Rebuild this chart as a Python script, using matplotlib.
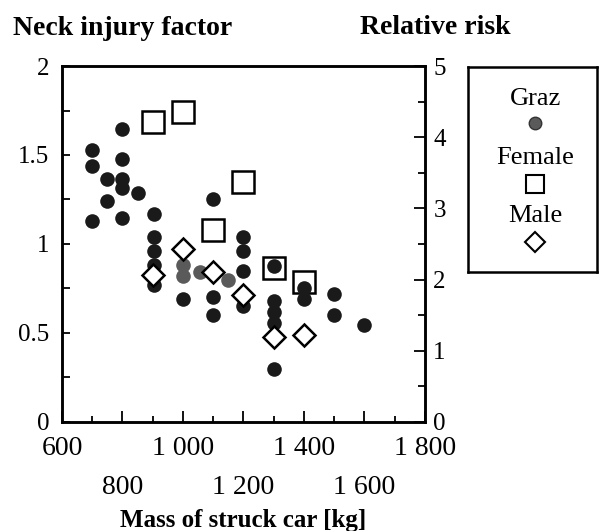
import matplotlib
matplotlib.use("Agg")
import matplotlib.pyplot as plt
from matplotlib.ticker import MultipleLocator

plt.rcParams['font.family'] = ['Liberation Serif', 'DejaVu Serif']

# Graz data (neck injury factor, left axis)
graz_x = [700, 700, 700, 750, 750, 800, 800, 800, 800, 800, 850,
          905, 905, 905, 905, 905, 1000, 1100, 1100, 1100,
          1200, 1200, 1200, 1200, 1300, 1300, 1300, 1300, 1300,
          1400, 1400, 1500, 1500, 1600]
graz_y = [1.53, 1.44, 1.13, 1.365, 1.24, 1.645, 1.475, 1.365, 1.315, 1.145, 1.285,
          1.17, 1.04, 0.96, 0.88, 0.77, 0.69, 1.25, 0.70, 0.60,
          1.04, 0.96, 0.85, 0.65, 0.875, 0.68, 0.62, 0.555, 0.30,
          0.75, 0.69, 0.72, 0.60, 0.545]
# lighter grey Graz points
graz_grey_x = [1000, 1000, 1055, 1150]
graz_grey_y = [0.88, 0.82, 0.84, 0.80]

# relative risk (right axis)
female_x = [900, 1000, 1100, 1200, 1300, 1400]
female_rr = [4.21, 4.35, 2.70, 3.375, 2.16, 1.97]
male_x = [900, 1000, 1100, 1200, 1300, 1400]
male_rr = [2.06, 2.43, 2.11, 1.78, 1.20, 1.22]

fig = plt.figure(figsize=(6.0, 5.31), dpi=100)
ax = fig.add_axes([0.1033, 0.2053, 0.605, 0.6704])
ax2 = ax.twinx()
ax.set_zorder(ax2.get_zorder() + 1)
ax.patch.set_visible(False)

ax.set_xlim(600, 1800)
ax.set_ylim(0, 2)
ax2.set_ylim(0, 5)

# squares behind, circles, diamonds on top
ax2.plot(female_x, female_rr, 's', ms=16, mfc='none', mec='black', mew=1.8, zorder=2)
ax.plot(graz_grey_x, graz_grey_y, 'o', ms=10.5, color='#5a5a5a', mec='none', zorder=3)
ax.plot(graz_x, graz_y, 'o', ms=10.5, color='#1a1a1a', mec='none', zorder=4)
ax.plot(male_x, male_rr, 'D', ms=11, mfc='white', mec='black', mew=1.8,
        transform=ax2.transData, zorder=5)

for a in (ax, ax2):
    for s in a.spines.values():
        s.set_linewidth(1.8)

# left axis ticks
ax.set_yticks([0, 0.5, 1, 1.5, 2])
ax.set_yticklabels(['0', '0.5', '1', '1.5', '2'])
ax.yaxis.set_minor_locator(MultipleLocator(0.25))
ax.tick_params(axis='y', which='both', direction='in', length=6, width=1.3,
               labelsize=18, pad=9)

# right axis ticks
ax2.set_yticks([0, 1, 2, 3, 4, 5])
ax2.yaxis.set_minor_locator(MultipleLocator(0.5))
ax2.tick_params(axis='y', which='major', direction='in', length=8, width=1.3,
                labelsize=18, pad=6)
ax2.tick_params(axis='y', which='minor', direction='in', length=5, width=1.3)

# x axis with staggered labels
xt = [600, 800, 1000, 1200, 1400, 1600, 1800]
xl = ['600', '\n800', '1 000', '\n1 200', '1 400', '\n1 600', '1 800']
ax.set_xticks(xt)
ax.set_xticklabels(xl, linespacing=1.72)
ax.xaxis.set_minor_locator(MultipleLocator(100))
ax.tick_params(axis='x', which='major', direction='in', length=8, width=1.3,
               labelsize=20, pad=10)
ax.tick_params(axis='x', which='minor', direction='in', length=4, width=1.3)
ax2.tick_params(axis='x', which='both', bottom=False, top=False)

ax.set_xlabel('Mass of struck car [kg]', fontsize=18, fontweight='bold')
ax.xaxis.set_label_coords(0.5, -0.245)

fig.text(13 / 600, 1 - 35 / 531, 'Neck injury factor', fontsize=20, fontweight='bold',
         ha='left', va='baseline')
fig.text(360 / 600, 1 - 34 / 531, 'Relative risk', fontsize=20, fontweight='bold',
         ha='left', va='baseline')

# legend box
lg = fig.add_axes([0.78, 0.4878, 0.215, 0.386])
lg.set_xlim(0, 1)
lg.set_ylim(0, 1)
lg.set_xticks([])
lg.set_yticks([])
for s in lg.spines.values():
    s.set_linewidth(1.8)
lg.text(0.52, 0.845, 'Graz', fontsize=19, ha='center', va='center')
lg.plot([0.52], [0.725], 'o', ms=9, color='#5a5a5a', mec='#333333')
lg.text(0.52, 0.555, 'Female', fontsize=19, ha='center', va='center')
lg.plot([0.52], [0.43], 's', ms=13, mfc='none', mec='black', mew=1.5)
lg.text(0.52, 0.275, 'Male', fontsize=19, ha='center', va='center')
lg.plot([0.52], [0.145], 'D', ms=10, mfc='white', mec='black', mew=1.5)

fig.savefig('out.png', dpi=100)
